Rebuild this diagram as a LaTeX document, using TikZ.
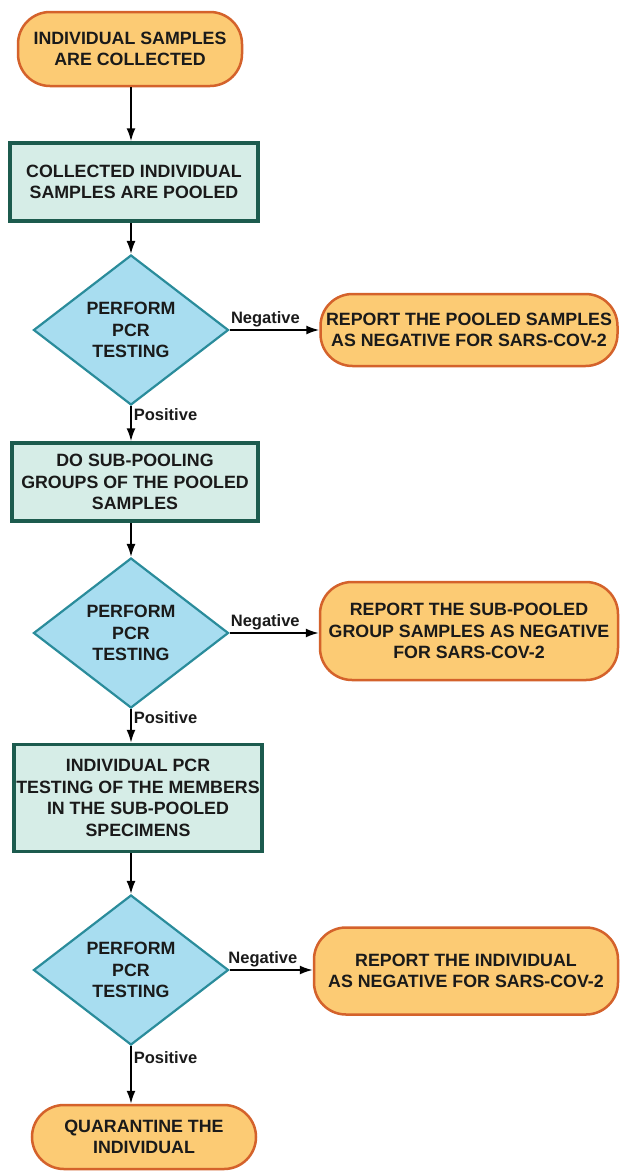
\documentclass[tikz,border=0pt]{standalone}
\usepackage{fontspec}
\setmainfont{Liberation Sans}
\usetikzlibrary{shapes.geometric,arrows.meta}
\definecolor{orfill}{HTML}{FCCB74}
\definecolor{ordraw}{HTML}{D4622B}
\definecolor{grfill}{HTML}{D6EDE7}
\definecolor{grdraw}{HTML}{1C5B4E}
\definecolor{blfill}{HTML}{A8DDF0}
\definecolor{bldraw}{HTML}{2A8C9B}
\definecolor{txt}{HTML}{1A1A1A}
\tikzset{
  x=1pt, y=-1pt,
  base/.style={align=center, inner sep=0pt, text=txt,
    font=\fontsize{17.8}{21.5}\selectfont\bfseries},
  terminal/.style={base, rectangle, rounded corners=32pt, fill=orfill, draw=ordraw, line width=2.5pt},
  process/.style={base, rectangle, fill=grfill, draw=grdraw, line width=3.5pt},
  decision/.style={base, diamond, aspect=1.3, fill=blfill, draw=bldraw, line width=2.2pt,
    minimum width=195pt, minimum height=150pt},
  arr/.style={-{Latex[length=13pt,width=9pt]}, line width=1.8pt, black},
  lab/.style={font=\fontsize{16.5}{18}\selectfont\bfseries, text=txt, inner sep=2pt}
}
\begin{document}
\begin{tikzpicture}
\useasboundingbox[fill=white] (0,0) rectangle (619,1171);
\node[terminal, minimum width=224pt, minimum height=74pt] (start) at (130,49) {INDIVIDUAL SAMPLES\\ARE COLLECTED};
\node[process, minimum width=248pt, minimum height=78pt] (box1) at (134,182) {COLLECTED INDIVIDUAL\\SAMPLES ARE POOLED};
\node[decision] (d1) at (131,330) {PERFORM\\PCR\\TESTING};
\node[terminal, minimum width=297pt, minimum height=72pt] (r1) at (469,330) {REPORT THE POOLED SAMPLES\\AS NEGATIVE FOR SARS-COV-2};
\node[process, minimum width=246pt, minimum height=78pt] (box2) at (135,482) {DO SUB-POOLING\\GROUPS OF THE POOLED\\SAMPLES};
\node[decision] (d2) at (131,633) {PERFORM\\PCR\\TESTING};
\node[terminal, minimum width=298pt, minimum height=98pt] (r2) at (469,631) {REPORT THE SUB-POOLED\\GROUP SAMPLES AS NEGATIVE\\FOR SARS-COV-2};
\node[process, minimum width=248pt, minimum height=107pt] (box3) at (138,798) {INDIVIDUAL PCR\\TESTING OF THE MEMBERS\\IN THE SUB-POOLED\\SPECIMENS};
\node[decision] (d3) at (131,970) {PERFORM\\PCR\\TESTING};
\node[terminal, minimum width=304pt, minimum height=87pt] (r3) at (466,971) {REPORT THE INDIVIDUAL\\AS NEGATIVE FOR SARS-COV-2};
\node[terminal, minimum width=224pt, minimum height=64pt] (end) at (144,1137) {QUARANTINE THE\\INDIVIDUAL};

\draw[arr] (start.south -| d1.north) -- (box1.north -| d1.north);
\draw[arr] (box1.south -| d1.north) -- (d1.north);
\draw[arr] (d1.east) -- node[lab, above, pos=0.4] {Negative} (d1.east -| r1.west);
\draw[arr] (d1.south) -- node[lab, anchor=north west, pos=0] {Positive} (box2.north -| d1.south);
\draw[arr] (box2.south -| d2.north) -- (d2.north);
\draw[arr] (d2.east) -- node[lab, above, pos=0.4] {Negative} (d2.east -| r2.west);
\draw[arr] (d2.south) -- node[lab, anchor=north west, pos=0] {Positive} (box3.north -| d2.south);
\draw[arr] (box3.south -| d3.north) -- (d3.north);
\draw[arr] (d3.east) -- node[lab, above, pos=0.4] {Negative} (d3.east -| r3.west);
\draw[arr] (d3.south) -- node[lab, anchor=north west, pos=0.05] {Positive} (end.north -| d3.south);
\end{tikzpicture}
\end{document}
